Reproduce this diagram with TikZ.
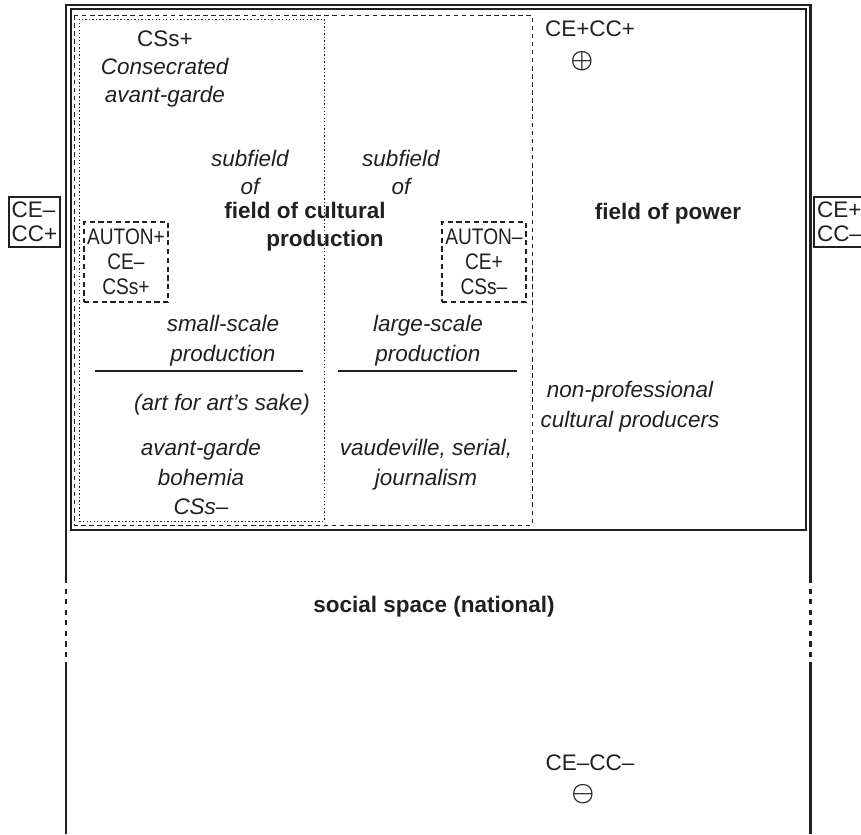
\documentclass[tikz,border=0pt]{standalone}
\usepackage{fontspec}
\setmainfont{Liberation Sans}
\newfontfamily\condfont[FakeStretch=0.85]{Liberation Sans}
\usepackage{amsmath,amssymb}
\usepackage{tikz}
\usetikzlibrary{positioning}
\usepackage{xcolor}
\definecolor{ink}{HTML}{231F20}

\begin{document}
\begin{tikzpicture}[x=0.02cm, y=-0.02cm,
    txt/.style={font=\fontsize{12.8}{#1}\selectfont, align=center, text=ink, inner sep=0pt},
    txt/.default=16pt,
    ital/.style={txt, font=\fontsize{12.8}{#1}\selectfont\itshape},
    ital/.default=16pt,
    heavy/.style={txt, font=\fontsize{12.8}{16pt}\selectfont\bfseries},
    sign/.style={txt, font=\fontsize{15}{15}\selectfont},
    signbox/.style={draw=ink, line width=1.4pt, align=left, text=ink, inner sep=1pt,
        minimum width=1.02cm, minimum height=1.0cm, font=\fontsize{12.8}{13.6}\selectfont},
    autbox/.style={draw=ink, line width=1.3pt, dash pattern=on 3pt off 2pt, align=center, text=ink,
        inner sep=0pt, minimum width=1.68cm, minimum height=1.6cm, font=\fontsize{12.8}{14.2}\selectfont\condfont}]
    \useasboundingbox (0,0) rectangle (861,834);

    \draw[ink, line width=1.7pt] (66,578) -- (66,5) -- (810,5) -- (810,578);
    \foreach \x in {66, 810} {
        \draw[ink, line width=1.7pt] (\x,667) -- (\x,834);
        \draw[ink, line width=1.7pt, dash pattern=on 3pt off 3pt] (\x,578) -- (\x,667);
    }
    \draw[ink, line width=0.6pt] (71,9) rectangle (806,530);
    \draw[ink, line width=0.5pt, dash pattern=on 2.6pt off 2pt] (74,15) rectangle (532,525);
    \draw[ink, line width=0.5pt, dash pattern=on 0.8pt off 1.2pt] (79,19) rectangle (324,521);

    \node[signbox] (leftsign) at (34.5,222) {CE–\\CC+};
    \node[signbox] (rightsign) at (839.5,222) {CE+\\CC–};
    \node[autbox] (autplus) at (126,262) {AUTON+\\CE–\\CSs+};
    \node[autbox] (autminus) at (484,262) {AUTON–\\CE+\\CSs–};

    \node[txt=16.2pt] (consecrated) at (165,69) {CSs+\\\textit{Consecrated}\\\textit{avant-garde}};
    \node[ital=15.9pt] (subsmall) at (250,172) {subfield\\of};
    \node[ital=15.9pt] (sublarge) at (401,172) {subfield\\of};
    \node[heavy, anchor=base] (cpfield) at (305,219) {field of cultural};
    \node[heavy, anchor=base] (cpprod) at (325,247) {production};
    \node[heavy, anchor=base] (power) at (668,220) {field of power};
    \node[txt, anchor=base] (topsign) at (590,37) {CE+CC+};
    \node[sign] (oplus) at (582,61) {$\boldsymbol{\oplus}$};

    \node[ital=17pt] (smallscale) at (223,341) {small-scale\\production};
    \draw[ink, line width=1.1pt] (95,371) -- (303,371);
    \node[ital, anchor=base] (artsake) at (222,410) {(art for art’s sake)};
    \node[ital=16.7pt] (bohemia) at (201,477) {avant-garde\\bohemia\\CSs–};

    \node[ital=17pt] (largescale) at (428,341) {large-scale\\production};
    \draw[ink, line width=1.1pt] (338,371) -- (517,371);
    \node[ital=17pt] (vaudeville) at (426,465) {vaudeville, serial,\\journalism};

    \node[ital=17pt] (nonprof) at (630,407) {non-professional\\cultural producers};
    \node[heavy] (social) at (434,607) {social space (national)};
    \node[txt] (botsign) at (590,763) {CE–CC–};
    \node[sign] (ominus) at (583,794) {$\boldsymbol{\ominus}$};
\end{tikzpicture}
\end{document}
